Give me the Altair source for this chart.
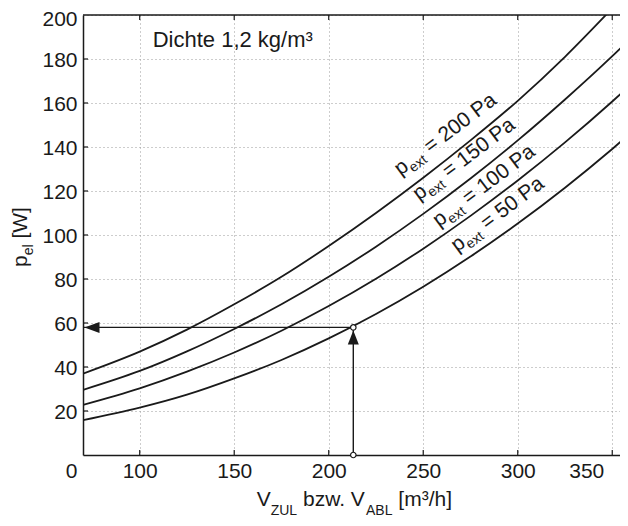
import altair as alt
import pandas as pd

# ---------------- data ----------------
v_points = [70, 100, 125, 150, 175, 200, 225, 250, 275, 300, 325, 350, 360]
p_50 = [15.8, 21.5, 27.4, 34.8, 43.2, 53.0, 64.1, 76.5, 90.2, 105.2, 121.5, 139.1, 146.5]
p_100 = [22.8, 30.3, 37.9, 46.6, 56.5, 67.7, 80.1, 93.8, 108.7, 124.8, 142.1, 160.7, 168.5]
p_150 = [29.6, 38.2, 47.1, 57.3, 68.5, 81.0, 94.7, 109.6, 125.7, 143.0, 161.6, 181.3, 189.6]
p_200 = [37.0, 47.0, 57.0, 68.5, 81.0, 95.0, 110.0, 126.0, 143.0, 161.0, 181.0, 203.0, 212.0]
series_names = ["50 Pa", "100 Pa", "150 Pa", "200 Pa"]

label_rest = ["= 200 Pa", "= 150 Pa", "= 100 Pa", "= 50 Pa"]
label_v = [238.0, 247.8, 258.4, 268.0]
label_p = [126.8, 115.5, 103.4, 92.0]

x_ticks = [100, 150, 200, 250, 300, 350]
y_ticks = [20, 40, 60, 80, 100, 120, 140, 160, 180, 200]
x_min, x_max = 70, 354.1
y_min, y_max = 0, 200

op_v, op_p = 213, 58   # operating point

# ---------------- styling ----------------
W, H = 537, 440
FONT = "Liberation Sans"
INK = "#1a1a1a"
GRID = "#9a9a9a"

AW = {' ': 278, '=': 584, '0': 556, '1': 556, '2': 556, '5': 556, 'P': 667, 'a': 556,
      'p': 556, 'e': 556, 'x': 500, 't': 278, 'l': 222, 'V': 667, 'Z': 611, 'U': 722,
      'L': 556, 'A': 667, 'B': 667, 'b': 556, 'z': 500, 'w': 722, '.': 278, '[': 278,
      ']': 278, 'm': 833, '³': 333, '/': 278, 'h': 556, 'W': 944}


def tw(s, size):
    return sum(AW.get(c, 556) for c in s) * size / 1000.0


xs = alt.Scale(domain=[x_min, x_max], nice=False, zero=False)
ys = alt.Scale(domain=[y_min, y_max], nice=False, zero=False)

x_axis = alt.Axis(
    values=[x_min] + x_ticks,
    labelExpr="datum.value == 70 ? '0' : datum.label",
    grid=True, gridDash=[1, 3], gridColor=GRID, gridWidth=1,
    gridOpacity={"condition": {"test": "datum.value == 70", "value": 0}, "value": 1},
    ticks=False, tickSize=0,
    domainColor=INK, domainWidth=1.5,
    labelFont=FONT, labelFontSize=21, labelColor=INK, labelPadding=5,
    labelFlush=False, labelOverlap=False,
    labelOffset={"condition": [{"test": "datum.value == 70", "value": -12},
                               {"test": "datum.value == 350", "value": -26}],
                 "value": 0},
    title=None,
)
y_axis = alt.Axis(
    values=y_ticks,
    grid=True, gridDash=[1, 3], gridColor=GRID, gridWidth=1,
    ticks=False, tickSize=0,
    domainColor=INK, domainWidth=1.5,
    labelFont=FONT, labelFontSize=21, labelColor=INK, labelPadding=6,
    labelOffset={"condition": {"test": "datum.value == 200", "value": 4.5}, "value": 1.5},
    labelOverlap=False,
    title=None,
)


def X(f):
    return alt.X(f, type="quantitative", scale=xs, axis=x_axis)


def Y(f):
    return alt.Y(f, type="quantitative", scale=ys, axis=y_axis)


rows = []
for name, vals in zip(series_names, [p_50, p_100, p_150, p_200]):
    for v, p in zip(v_points, vals):
        rows.append({"v": v, "p": p, "s": name})
curves_df = pd.DataFrame(rows)

curves = alt.Chart(curves_df).mark_line(
    color=INK, strokeWidth=1.8, clip=True, interpolate="monotone"
).encode(x=X("v"), y=Y("p"), detail="s:N")

one = pd.DataFrame({"a": [0]})

# inner ticks and top border
xt_df = pd.DataFrame({"v": x_ticks})
yt_df = pd.DataFrame({"p": y_ticks[:-1]})
tick_bottom = alt.Chart(xt_df).mark_rule(color=INK, strokeWidth=1.2).encode(
    x=X("v"), y=alt.value(H), y2=alt.value(H - 5))
tick_top = alt.Chart(xt_df).mark_rule(color=INK, strokeWidth=1.2).encode(
    x=X("v"), y=alt.value(0), y2=alt.value(5))
tick_left = alt.Chart(yt_df).mark_rule(color=INK, strokeWidth=1.2).encode(
    y=Y("p"), x=alt.value(0), x2=alt.value(5))
top_border = alt.Chart(one).mark_rule(color=INK, strokeWidth=1.5).encode(
    x=alt.value(0), x2=alt.value(W), y=alt.value(0))

# operating point arrows
h_df = pd.DataFrame({"v0": [x_min], "v1": [op_v], "p": [op_p]})
v_df = pd.DataFrame({"v": [op_v], "p0": [y_min], "p1": [op_p]})
h_line = alt.Chart(h_df).mark_rule(color=INK, strokeWidth=1.4).encode(
    x=X("v0"), x2="v1", y=Y("p"))
v_line = alt.Chart(v_df).mark_rule(color=INK, strokeWidth=1.4).encode(
    x=X("v"), y=Y("p0"), y2="p1")
head_left = alt.Chart(pd.DataFrame({"v": [x_min], "p": [op_p]})).mark_point(
    shape="M1.5,0L16.5,-5.5L16.5,5.5Z", size=4, filled=True, color=INK, opacity=1,
    strokeWidth=0, clip=False
).encode(x=X("v"), y=Y("p"))
head_up = alt.Chart(pd.DataFrame({"v": [op_v], "p": [op_p]})).mark_point(
    shape="M0,3L-5.5,17L5.5,17Z", size=4, filled=True, color=INK, opacity=1,
    strokeWidth=0, clip=False
).encode(x=X("v"), y=Y("p"))
circ = alt.Chart(pd.DataFrame({"v": [op_v, op_v], "p": [op_p, y_min]})).mark_point(
    shape="circle", size=30, filled=True, color="white", stroke=INK, strokeWidth=1.2,
    opacity=1, clip=False
).encode(x=X("v"), y=Y("p"))

# curve labels p_ext = ... Pa
lab_df = pd.DataFrame({"v": label_v, "p": label_p, "rest": label_rest})
ANG = 323
lab_p = alt.Chart(lab_df).mark_text(
    text="p", font=FONT, fontSize=21, color=INK, align="left", baseline="alphabetic",
    angle=ANG).encode(x=X("v"), y=Y("p"))
lab_ext = alt.Chart(lab_df).mark_text(
    text="ext", font=FONT, fontSize=14, color=INK, align="left", baseline="alphabetic",
    angle=ANG, dx=tw("p", 21) + 0.5, dy=5).encode(x=X("v"), y=Y("p"))
lab_rest = alt.Chart(lab_df).mark_text(
    font=FONT, fontSize=21, color=INK, align="left", baseline="alphabetic",
    angle=ANG, dx=tw("p", 21) + tw("ext", 14) + tw(" ", 21) + 1).encode(
    x=X("v"), y=Y("p"), text="rest:N")

# density note
dichte = alt.Chart(one).mark_text(
    text="Dichte 1,2 kg/m³", font=FONT, fontSize=22, color=INK, align="left",
    baseline="alphabetic").encode(x=alt.value(69.7), y=alt.value(31.7))

# x title with subscripts (leading spaces become offsets: SVG collapses them)
xt_x0, xt_y0 = 173.7, 490.5
x_pieces = [("V", 21, 0), ("ZUL", 14, 9), (" bzw. V", 21, 0), ("ABL", 14, 9), (" [m³/h]", 21, 0)]
x_title_layers = []
off = 0.0
for txt, fs, dy in x_pieces:
    lead = len(txt) - len(txt.lstrip(" "))
    x_title_layers.append(alt.Chart(one).mark_text(
        text=txt.lstrip(" "), font=FONT, fontSize=fs, color=INK, align="left",
        baseline="alphabetic", dx=off + tw(" " * lead, fs), dy=dy
    ).encode(x=alt.value(xt_x0), y=alt.value(xt_y0)))
    off += tw(txt, fs)

# y title with subscript (rotated)
yt_x0, yt_y0 = -56.5, 252
y_pieces = [("p", 21, 0), ("el", 14, 6), (" [W]", 21, 0)]
y_title_layers = []
off = 0.0
for txt, fs, dy in y_pieces:
    lead = len(txt) - len(txt.lstrip(" "))
    y_title_layers.append(alt.Chart(one).mark_text(
        text=txt.lstrip(" "), font=FONT, fontSize=fs, color=INK, align="left",
        baseline="alphabetic", angle=270, dx=off + tw(" " * lead, fs), dy=dy
    ).encode(x=alt.value(yt_x0), y=alt.value(yt_y0)))
    off += tw(txt, fs)

chart = alt.layer(
    curves, tick_bottom, tick_top, tick_left, top_border,
    h_line, v_line, head_left, head_up, circ,
    lab_p, lab_ext, lab_rest, dichte, *x_title_layers, *y_title_layers
).properties(
    width=W, height=H,
    autosize=alt.AutoSizeParams(type="none"),
    padding={"left": 75, "top": 7, "right": 0, "bottom": 64},
).configure_view(stroke=None)

chart.save("out.html", embed_options={"renderer": "svg", "actions": False})
